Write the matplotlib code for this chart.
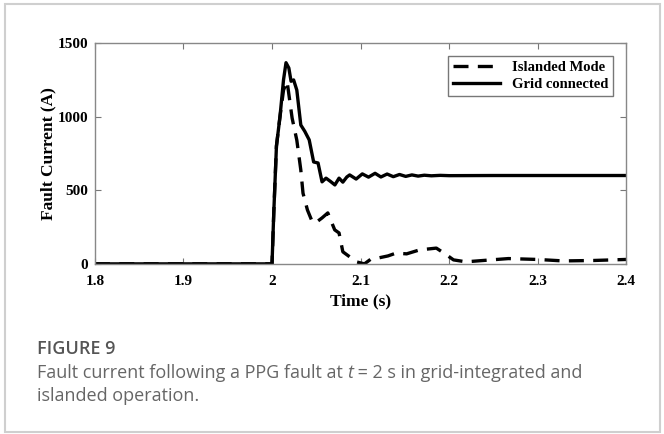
import matplotlib
matplotlib.use("Agg")
import matplotlib.pyplot as plt
from matplotlib.patches import Rectangle

# grid connected (solid)
t_grid = [1.8, 2.0, 2.002, 2.005, 2.009, 2.013, 2.0158, 2.019, 2.0215, 2.0244, 2.028, 2.0325,
          2.037, 2.042, 2.047, 2.052, 2.0565, 2.061, 2.066, 2.071, 2.0757, 2.080, 2.0845,
          2.0877, 2.095, 2.102, 2.109, 2.1164, 2.123, 2.130, 2.137, 2.144, 2.151, 2.158,
          2.165, 2.172, 2.18, 2.19, 2.2, 2.25, 2.3, 2.35, 2.4]
i_grid = [0, 0, 350, 800, 1000, 1250, 1366, 1330, 1240, 1249, 1180, 943,
          900, 842, 692, 685, 557, 582, 560, 536, 582, 555, 590,
          604, 576, 611, 589, 615, 590, 610, 592, 607, 594, 604, 596, 602, 598, 601, 599,
          600, 600, 600, 600]

# islanded mode (dashed)
t_isl = [1.8, 2.0, 2.002, 2.005, 2.009, 2.013, 2.017, 2.0227, 2.028, 2.0325, 2.035, 2.04,
         2.0455, 2.049, 2.0565, 2.063, 2.0708, 2.0757, 2.080, 2.0877, 2.095, 2.1044,
         2.1116, 2.12, 2.131, 2.140, 2.152, 2.1667, 2.1856, 2.1955, 2.205, 2.219, 2.2385,
         2.267, 2.30, 2.329, 2.363, 2.4]
i_isl = [0, 0, 350, 800, 1000, 1180, 1240, 990, 840, 638, 480, 366,
         285, 278, 312, 346, 231, 210, 82, 48, 14, 0,
         32, 40, 54, 73, 68, 95, 107, 68, 27, 14, 23,
         36, 30, 20, 23, 30]

x_ticks = [1.8, 1.9, 2.0, 2.1, 2.2, 2.3, 2.4]
x_labels = ["1.8", "1.9", "2", "2.1", "2.2", "2.3", "2.4"]
y_ticks = [0, 500, 1000, 1500]

serif = ["Liberation Serif", "DejaVu Serif"]

fig = plt.figure(figsize=(6.64, 4.34), dpi=100)
ax = fig.add_axes([0.143, 0.392, 0.800, 0.509])

ax.plot(t_isl, i_isl, color="black", lw=2.4, linestyle=(0, (4.5, 2.8)), label="Islanded Mode")
ax.plot(t_grid, i_grid, color="black", lw=2.4, label="Grid connected")

ax.set_xlim(1.8, 2.4)
ax.set_ylim(0, 1500)
ax.set_xticks(x_ticks)
ax.set_xticklabels(x_labels)
ax.set_yticks(y_ticks)
for lab in ax.get_xticklabels() + ax.get_yticklabels():
    lab.set_fontfamily(serif)
    lab.set_fontweight("bold")
    lab.set_fontsize(11)
ax.tick_params(direction="in", top=True, right=True, length=4, width=0.8, color="#777777")
ax.tick_params(axis="x", pad=8)
ax.tick_params(axis="y", pad=5)
for sp in ax.spines.values():
    sp.set_color("#888888")
    sp.set_linewidth(1.0)

ax.set_xlabel("Time (s)", fontfamily=serif, fontweight="bold", fontsize=12.5, labelpad=4)
ax.set_ylabel("Fault Current (A)", fontfamily=serif, fontweight="bold", fontsize=12.5, labelpad=1)

leg = ax.legend(loc="upper right", prop={"family": serif, "weight": "bold", "size": 10.5},
                fancybox=False, framealpha=1, edgecolor="#777777", handlelength=3.2,
                borderaxespad=0.9, borderpad=0.35, labelspacing=0.25)
leg.get_frame().set_linewidth(1.0)

# outer border of the figure panel
fig.patches.append(Rectangle((5 / 664, 2 / 434), 655 / 664, 428 / 434, transform=fig.transFigure,
                             fill=False, edgecolor="#cfcfcf", linewidth=1.5))

# caption
cap = ["Open Sans", "DejaVu Sans"]
fs = 13
fig.text(37 / 664, 1 - 349 / 434, "FIGURE 9", fontfamily=cap, fontweight="semibold",
         fontsize=fs, color="#555555", va="center")
fig.canvas.draw()
r = fig.canvas.get_renderer()
x0 = 37 / 664
y1 = 1 - 373 / 434
p1 = fig.text(x0, y1, "Fault current following a PPG fault at ", fontfamily=cap,
              fontsize=fs, color="#666666", va="center")
w1 = p1.get_window_extent(r).width / 664
p2 = fig.text(x0 + w1, y1, "t", fontfamily=cap, fontstyle="italic",
              fontsize=fs, color="#666666", va="center")
w2 = p2.get_window_extent(r).width / 664
fig.text(x0 + w1 + w2, y1, " = 2 s in grid-integrated and", fontfamily=cap,
         fontsize=fs, color="#666666", va="center")
fig.text(x0, 1 - 396 / 434, "islanded operation.", fontfamily=cap,
         fontsize=fs, color="#666666", va="center")

fig.savefig("out.png", dpi=100)
